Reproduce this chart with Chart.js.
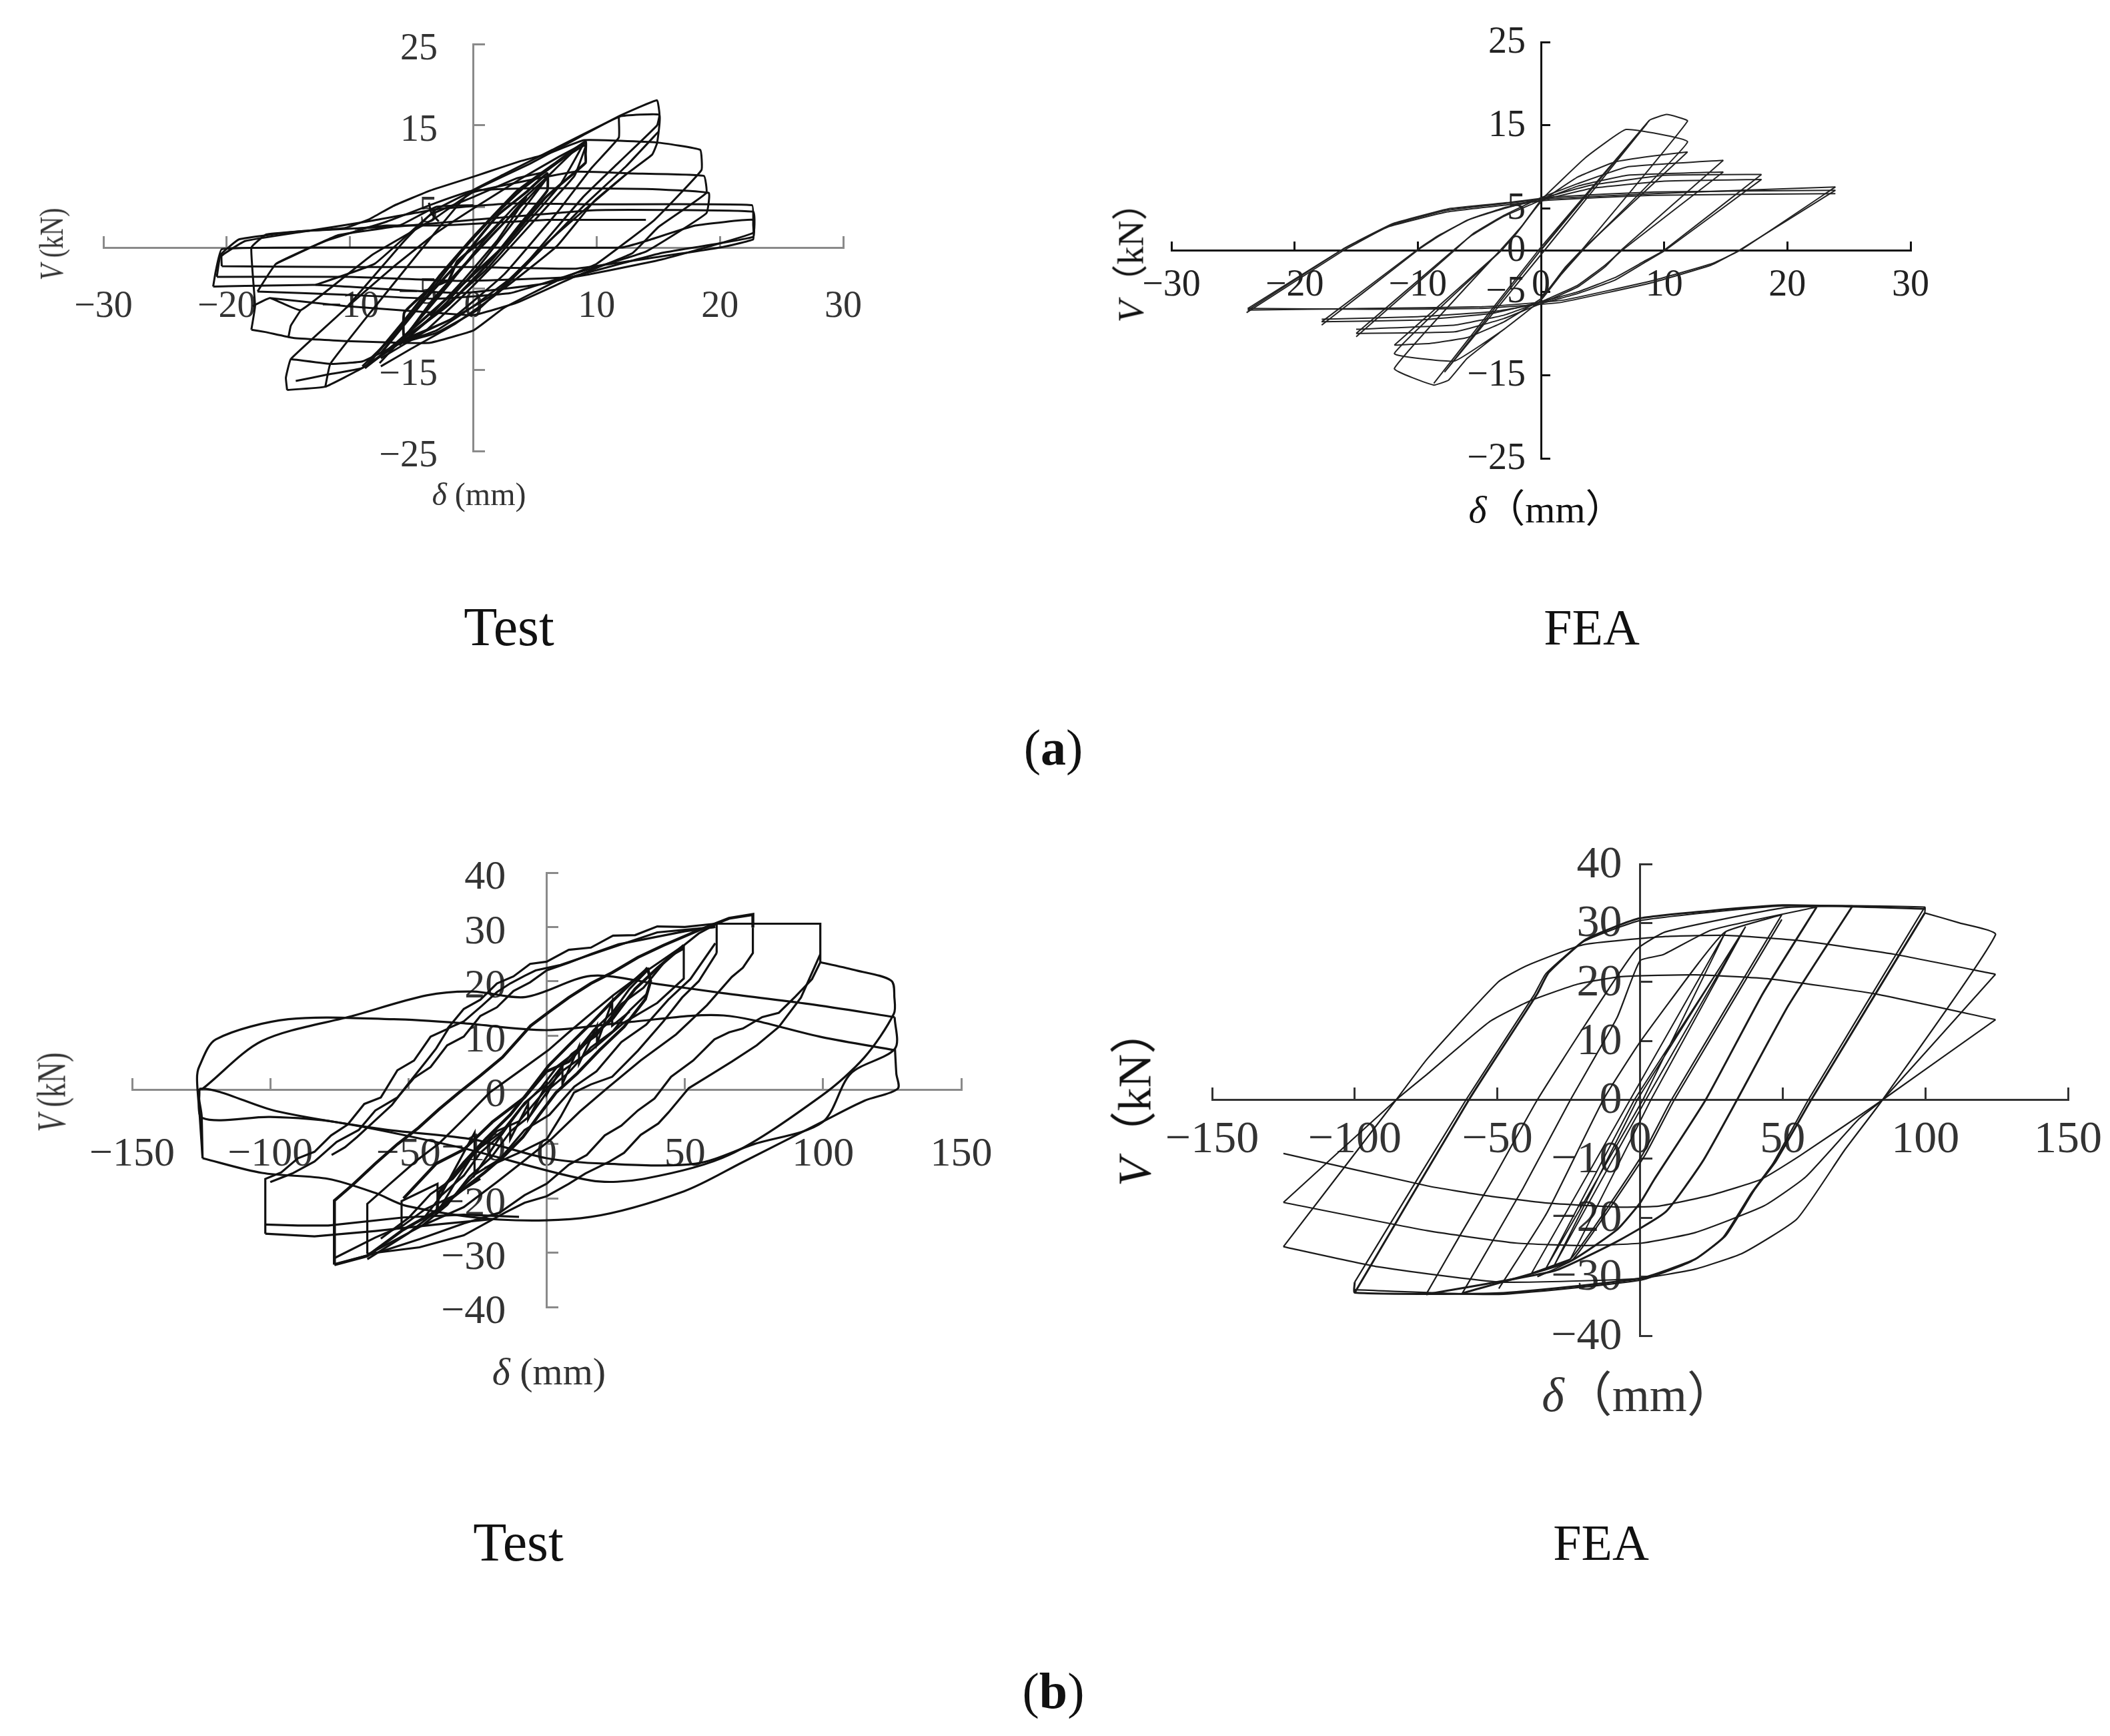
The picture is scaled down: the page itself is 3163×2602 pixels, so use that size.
<!DOCTYPE html>
<html>
<head>
<meta charset="utf-8">
<script src="https://cdn.jsdelivr.net/npm/chart.js@4"></script>
<style>
  html, body { margin: 0; background: #fff; }
  body { position: relative; width: 3163px; height: 2602px; overflow: hidden; }
  canvas { position: absolute; }
  .txt { position: absolute; transform: translate(-50%, -50%); white-space: nowrap; color: #111;
         font-family: "Liberation Serif", "Noto Sans CJK SC", serif; }
  .cap { font-size: 76px; }
  i { font-style: italic; }
</style>
</head>
<body>
<canvas id="aTest"></canvas>
<canvas id="aFea"></canvas>
<canvas id="bTest"></canvas>
<canvas id="bFea"></canvas>

<div class="txt" style="left:718px;top:740px;font-size:48px;color:#333"><i>δ</i> (mm)</div>
<div class="txt" style="left:77px;top:366px;font-size:50px;color:#333;transform:translate(-50%,-50%) rotate(-90deg) scaleX(.79)"><i>V</i> (kN)</div>
<div class="txt" style="left:2318px;top:758px;font-size:58px"><i>δ</i>（mm）</div>
<div class="txt" style="left:1690px;top:380px;font-size:54px;transform:translate(-50%,-50%) rotate(-90deg)"><i>V</i>（kN）</div>
<div class="txt" style="left:823px;top:2055px;font-size:58px;color:#333"><i>δ</i> (mm)</div>
<div class="txt" style="left:77px;top:1637px;font-size:62px;color:#333;transform:translate(-50%,-50%) rotate(-90deg) scaleX(.7)"><i>V</i> (kN)</div>
<div class="txt" style="left:2456px;top:2083px;font-size:72px;color:#333"><i>δ</i>（mm）</div>
<div class="txt" style="left:1694px;top:1644px;font-size:70px;transform:translate(-50%,-50%) rotate(-90deg)"><i>V</i>（kN）</div>

<div class="txt cap" style="left:763px;top:940px;font-size:82px">Test</div>
<div class="txt cap" style="left:2386px;top:940px">FEA</div>
<div class="txt cap" style="left:1579px;top:1120px">(<b>a</b>)</div>
<div class="txt cap" style="left:777px;top:2312px;font-size:82px">Test</div>
<div class="txt cap" style="left:2400px;top:2312px">FEA</div>
<div class="txt cap" style="left:1579px;top:2534px">(<b>b</b>)</div>

<script>
// tick values
const aXTicks = [-30, -20, -10, 0, 10, 20, 30];
const aTestYTicks = [25, 15, 5, -5, -15, -25];
const aFeaYTicks = [25, 15, 5, 0, -5, -15, -25];
const bXTicks = [-150, -100, -50, 0, 50, 100, 150];
const bYTicks = [40, 30, 20, 10, 0, -10, -20, -30, -40];

// (a) Test, hysteresis loops as [delta, V]
const aTest1 = [[-8.8,-14.8],[-5.5,-8.8],[-2.8,-3.6],[0,1.3],[3.6,7],[6.5,10.2],[9.1,13],[9.1,11.5],[9.1,10.4],[5.9,6.2],[2.5,0.2],[-1.8,-5.8],[-6.3,-11.8],[-8.8,-14.8]];
const aTest2 = [[-7.5,-13],[-4,-6.5],[-1,-1.5],[2,4],[4.3,6.8],[6,9.1],[6,7],[4.3,3.8],[1.5,-1.5],[-2,-7],[-5.6,-11],[-5.6,-8],[-3.5,-5],[-2,-4],[-1.3,-1.7],[0,0],[1,1.3],[2.6,3.8]];
const aTest3 = [[-15.1,-17.5],[-15.2,-16],[-14.8,-13.7],[-10.3,-7.4],[-5.6,0.8],[-3.1,4.6],[0,7],[4.6,10.3],[8.9,13.8],[11.9,16.2],[14.9,18.1],[15.1,16.3],[14.9,15],[11.9,10.6],[8.9,6.2],[4.6,-1.4],[0.5,-7.5],[-3,-10.5],[-6,-11.8],[-9,-14.8],[-12,-17.1],[-15.1,-17.5]];
const aTest4 = [[-12,-17.1],[-11.6,-14.3],[-8.2,-7.7],[-2.8,2.4],[-0.3,6.8],[2.5,9],[6.4,12],[11.9,16.1],[15.1,16.3],[14.9,12.8],[14.5,11.4],[12.4,9],[9.8,5.7],[6.8,0.2],[2.5,-5],[-1.8,-8.8],[-5.6,-11.5],[-9,-14],[-11.6,-14.3],[-14.8,-13.7]];
const aTest5 = [[11.8,16.1],[11.8,13.5],[9.6,9.8],[6.8,4.3],[2.5,-3.3],[-1.8,-8.8],[-6,-11.5]];
const aTest6 = [[-14.4,-16.4],[-11.8,-15.6],[-9,-14.8],[-6,-11.8]];
const aTest7 = [[-18,-10.1],[-16.8,-10.4],[-14.6,-11.1],[-10.3,-11.5],[-6,-11.7],[-3.5,-11.7],[0,-10.2],[2.5,-7.4],[6.9,-4],[10,-2],[14.7,3.4],[18.5,9.5],[18.4,12],[14.9,12.9],[9,13.2],[6,11.5],[3.8,10.6],[1,9.2],[0,8.7],[-3.5,7],[-6.5,5.1],[-8.4,3.5],[-10.4,2.4],[-14,2],[-16.8,1.6],[-18,0],[-17.7,-7.2],[-18,-10.1]];
const aTest8 = [[-14,-7.7],[-14.8,-9.6],[-15,-11.1]];
const aTest9 = [[-17.9,-7.2],[-16.5,-6.2],[-14,-7.7],[-8.2,-0.9],[-3.1,3.6],[0,6.8],[8.2,9.3],[12.9,9.1],[18.7,8.8],[18.9,6.7],[15,2.5],[12.9,-0.7],[8.2,-3.6],[3.5,-6.8],[0,-8.3],[-5,-7.8],[-10.4,-7.2],[-16.5,-6.2]];
const aTest10 = [[-17.5,-5.4],[-16,-2],[-12,0.8],[-7,3.2],[-3,5.5],[0,7],[5,7.3],[14,7.2],[19.1,6.7],[18.9,4.2],[14,-0.5],[8.2,-3.2],[3,-5.6],[-3,-6.3],[-10.4,-5.8],[-17.5,-5.4]];
const aTest11 = [[-20.4,-2.3],[-20.4,-1],[-18.5,0.8],[-14,1.9],[-8.6,3.2],[-3,4.7],[3,5.4],[10,5.3],[22.6,5.2],[22.7,2.8],[22.7,1],[20,0],[15.2,-1.1],[8.2,-2.6],[0,-2.4],[-10,-2.4],[-20.4,-2.3]];
const aTest12 = [[-20.8,-3.6],[-20.5,-0.9],[-19,1],[-14,2],[-6,2.6],[0,3.4],[10,4.6],[22.7,4.4],[22.7,1.8],[15.2,-1.5],[8.2,-3.6],[-1,-4.1],[-10,-3.6],[-20.8,-3.6]];
const aTest13 = [[-21.1,-4.8],[-20.9,-3],[-20.4,-0.2],[-12,-0],[0,0],[12,0],[14,0.8],[18,2.7],[22.7,3.4],[22.7,1.3],[15.2,-0.7],[5.9,-4.4],[-1.1,-5.6],[-12.8,-4.6],[-21.1,-4.8]];
const aTest14 = [[-9.6,2.3],[-7,2.7],[-3,2.7],[0,2.9],[6,3.4],[14,3.4]];
const aTest15 = [[-3.6,5.5],[-3.4,4.2],[-2.8,3.2]];
const aTest16 = [[-16,-2],[-11,1.5],[-6,2.7],[-3,5],[0,5.2]];
const aTest17 = [[-12.8,-4.6],[-8,-2],[-3.5,4],[0,6.2],[3.5,8.5],[5.9,9.3]];
const aTest18 = [[-9,-14.6],[-6.3,-10.6],[-3.5,-5.4],[-1,-0.6],[1.5,3.6],[4,7.2],[7,10.6],[9.1,12.6],[8.2,8.8],[5,3.4],[2,-1.6],[-1,-6.2],[-4,-10.4],[-7.5,-13.6]];
const aTest19 = [[-7.6,-14.2],[-4.8,-9.6],[-2,-4.6],[0.6,0.4],[3.2,4.8],[5.8,8.4],[9,13],[7,7.6],[4,2.4],[1,-2.8],[-2.6,-7.6],[-6,-12]];
const aTest20 = [[-6,-12],[-3.4,-6.6],[-0.8,-2.2],[1.8,2],[4.2,5.6],[6,8.6],[3.4,3.4],[0.4,-2.4],[-2.2,-6.8],[-4.8,-10.4]];
const aTest21 = [[-5.6,-11],[-2.8,-5.8],[0,-1],[2.6,3.2],[4.3,6.2],[2,1],[-0.8,-4],[-3.5,-8.4]];
const aTest22 = [[-10.3,-7.4],[-6.5,-2.4],[-3,1.8],[0,4.8],[3.8,8.4],[7,11.2],[9,12.8]];
const aTest23 = [[12.4,9],[9,4.6],[6,0.6],[3,-3.8],[0.2,-7],[-3,-10.2],[-6,-11.8]];
const aTest24 = [[15,14.2],[12.4,10],[9,5.2],[5.8,0.2],[2,-5.6],[-1.5,-9.4],[-5,-12.4],[-7.5,-14.6]];
const aTestLoops = [aTest1, aTest2, aTest3, aTest4, aTest5, aTest6, aTest7, aTest8, aTest9, aTest10, aTest11, aTest12, aTest13, aTest14, aTest15, aTest16, aTest17, aTest18, aTest19, aTest20, aTest21, aTest22, aTest23, aTest24];
const aTestThick = [aTest1, aTest2];

// (a) FEA
const aFea1 = [[-23.9,-7.5],[-16,0],[-15,0.8],[-12.2,3],[-7.6,4.8],[-2.9,5.6],[0.8,6.2],[9.2,6.8],[23.9,7.6]];
const aFea2 = [[23.9,7.6],[16.2,0],[13.9,-1.6],[9.2,-3.6],[1.8,-6],[-4.8,-6.8],[-14,-7],[-23.8,-7.2]];
const aFea3 = [[-23.8,-7.2],[-16,0.2],[-15,1],[-12,3.2],[-7.4,5],[-2.8,5.7],[1,6.4],[9.2,7],[23.9,7.2]];
const aFea4 = [[23.9,7.2],[16.1,0],[13.8,-1.8],[9,-3.9],[1.5,-6.3],[-5,-7],[-14,-7.1],[-23.8,-7]];
const aFea5 = [[-23.8,-7],[-16.1,0.1],[-12.4,2.8],[-7.6,4.6],[-3,5.4],[0.6,6],[9,6.6],[23.9,6.8]];
const aFea6 = [[-17.8,-9],[-10,0],[-8.5,1.5],[-6,3.6],[-3,5],[0,6.2],[4,7.8],[10,9],[17.9,9.1]];
const aFea7 = [[17.9,9.1],[10,0],[8.3,-1.4],[6,-3.3],[3,-5],[0,-6.2],[-4,-7.6],[-10,-8.4],[-17.8,-8.6]];
const aFea8 = [[-17.8,-8.6],[-10,0.1],[-8.4,1.7],[-5.8,3.7],[-3,5.1],[0,6],[4,7.4],[10,8.3],[17.9,8.5]];
const aFea9 = [[17.9,8.5],[10.1,0],[8.4,-1.5],[6,-3.6],[3,-5.2],[0,-6.4],[-4,-7.4],[-10,-8],[-17.8,-8.3]];
const aFea10 = [[-15,-10.4],[-7,0],[-5.5,2],[-3,4.2],[0,6.3],[3,8],[7,10],[14.8,10.8]];
const aFea11 = [[14.8,10.8],[6.5,0],[5.2,-2],[3,-4.4],[0,-6.4],[-3,-8.2],[-7,-9.8],[-15,-10]];
const aFea12 = [[-15,-10],[-7.1,0],[-5.6,1.8],[-3.1,4],[0,6],[3,7.7],[7,9],[14.8,9.4]];
const aFea13 = [[14.8,9.4],[6.6,0],[5.2,-1.8],[3,-4.2],[0,-6.2],[-3,-7.8],[-7,-9],[-15,-9.5]];
const aFea14 = [[-11.9,-11.4],[-3.2,0],[-2,2],[0,5.8],[3,8.8],[6,10.6],[9,11.3],[11.9,11.8]];
const aFea15 = [[11.9,11.8],[3.3,0],[2,-2],[0,-5.8],[-3,-8.6],[-6,-10.5],[-9,-11.2],[-11.9,-11.4]];
const aFea16 = [[0,0],[8.8,15.6],[10.2,16.3],[11.9,15.5],[3.3,0],[1.5,-3],[0,-6],[-3,-9.5],[-6,-13],[-7.5,-15.6],[-8.7,-16.2],[-11.9,-14.2],[-3.3,0],[-1.5,3],[0,6],[3.6,11.1],[6.9,14.5],[11.9,13],[3.4,0],[1.6,-3],[0,-6],[-3,-9.5],[-7,-13.3],[-11.9,-12.4],[-3.2,0],[-1.5,3]];
const aFea17 = [[-8.7,-16],[-0.2,0],[8.6,15.2],[0.3,0],[-7.8,-14.6],[0.4,0.8],[8.8,15.6]];
const aFeaLoops = [aFea1, aFea2, aFea3, aFea4, aFea5, aFea6, aFea7, aFea8, aFea9, aFea10, aFea11, aFea12, aFea13, aFea14, aFea15, aFea16, aFea17];

// (b) Test, ragged branches typed in by eye
const bTest1 = [[-124.5,-12.6],[-103,-15.3],[-79,-16.4],[-62,-19],[-50.6,-21.4],[-17,-23.9],[16,-23.4],[49.6,-18.7],[71,-13.3],[99.7,-5.9],[115,-2],[127,0.2],[126.5,3],[126,7.6]];
const bTest2 = [[99,23.5],[112,22],[124.7,20.1],[125.8,17],[125.6,14],[115,6],[99.7,-1],[66,-12],[35,-16.4],[16,-16.7],[-31.5,-10.6],[-76.8,-5.9],[-100,-5],[-124.5,-5.2],[-125.7,0.2]];
const bTest3 = [[-125.7,0.2],[-124.5,0.2],[-103,9],[-69.6,13.7],[-43.4,17.4],[-26.7,18.1],[-7.6,17.1],[16,21],[40,19.5],[63.9,17.8],[95,15.8],[125.9,13.4]];
const bTest4 = [[125.9,13.4],[126,7.6],[110,3],[99.7,-6],[75,-10],[54,-13.6],[21,-13.6],[0,-12.6],[-26,-9.2],[-60,-7.2],[-98,-3.9],[-125,0.2],[-124.8,-5],[-124.5,-12.6]];
const bTest5 = [[-124.5,-12.6],[-125.5,-5],[-126.5,2],[-125.7,4.3],[-119.7,9.3],[-93.5,13],[-55.3,13],[-31,12.3],[0,11],[30,12.5],[64,13.7],[99.7,9.7],[126,7.3]];
const bTest6 = [[-101.8,-26.5],[-101.8,-16.4],[-96,-15.2],[-90,-12.6],[-84,-11.4],[-78,-8.4],[-72,-6.4],[-66,-2.6],[-60,-1.4],[-54,3.6],[-48,5.4],[-42,9.8],[-36,11.2],[-30,14.9],[-24,16.6],[-18,19.6],[-12,20.9],[-6,23.2],[0,23.6],[8,25.8],[16,26.2],[24,28.4],[32,28.5],[40,30.1],[50,30],[61,30.6],[99,30.6],[99,28.4],[99,23.5]];
const bTest7 = [[99,23.5],[96,20.4],[90,17.2],[84,14.2],[78,13.4],[71,11.3],[66,10.6],[60.7,9.3],[53,5.4],[45,2.4],[39,-1.6],[33,-3.8],[27,-6.6],[21,-8.4],[14.5,-12],[8,-13.8],[0,-17.3],[-8,-19.4],[-16.9,-22.6],[-30,-24.6],[-46,-27.5],[-60,-29.8],[-76.8,-32.2]];
const bTest8 = [[-101.8,-24.8],[-90,-25],[-79,-25],[-51.8,-23.5],[-30,-23],[-10,-23.4]];
const bTest9 = [[-101.8,-26.5],[-84,-27],[-62,-26],[-40,-24.8],[-19,-23.8]];
const bTest10 = [[-76.8,-32.2],[-76.8,-20.4],[-70,-17.4],[-62,-13.6],[-54,-10],[-46.4,-7],[-39,-3.6],[-31.7,-0.5],[-24,2.6],[-16,6],[-10,9.4],[-5.8,11.8],[1,14.4],[8,17],[16,19.6],[23.7,21.6],[33,24.4],[42.2,26.6],[55,29.4],[66,31.6],[74.6,32.3],[74.6,29.9]];
const bTest11 = [[-64.9,-30.2],[-64.9,-21],[-56,-17],[-47,-13],[-39,-9.9],[-30,-5.4],[-20.6,-0.5],[-10,3.4],[0.6,7.3],[8,10.6],[14.5,13.4],[24,17.4],[33,20.8],[41,23.6],[49.6,26.6],[55,28.8],[61.5,30.6],[61.5,25.2]];
const bTest12 = [[-39.8,-22.8],[-39,-18.9],[-30,-13.4],[-22,-9],[-13.2,-4.6],[-6,0],[0.6,4.4],[8,8.2],[16,12.2],[23.7,16.3],[30,19.4],[35.7,22],[36.5,22.5]];
const bTest13 = [[36.5,22.5],[37.6,20],[35.7,16.7],[28,11.6],[19.1,7.3],[11,3],[3.4,-0.5],[-3,-4.8],[-8.6,-8.7],[-15,-12],[-22.4,-15.2],[-32,-19],[-40.9,-22.6],[-52,-25.8],[-64.9,-30.6],[-76.8,-32.2]];
const bTest14 = [[61.5,25.2],[55,20],[49,17],[42.2,12.6],[33,7.2],[23.7,2.4],[16,1],[9.9,-0.5],[5,-5],[0,-9.1],[-10,-11.6],[-22.4,-14.4]];
const bTest15 = [[-100,-17],[-92,-15.4],[-84,-13.2],[-76,-9.6],[-68,-7.4],[-62,-3.8],[-54,-1.4],[-48,2.2],[-42,4.2],[-36,8.2],[-30,9.8],[-24,13.6],[-18,15.2],[-12,18.2],[-6,19.8],[0,22],[8,23.4],[16,25],[26,26.8],[38,28],[50,29.2],[61,30]];
const bTest16 = [[99,25],[92,17],[84,11.6],[76,8.2],[67,5.2],[60,3],[51.4,0.3],[44,-4.2],[40.4,-6.2],[34,-8.3],[28,-11.6],[22.8,-13.2],[14,-15.4],[8,-17.3],[0,-19.6],[-8,-20.8],[-15,-22.6],[-30,-26.8],[-46,-29],[-64.9,-30.2]];
const bTest17 = [[74.6,29.9],[74.6,25.2],[71,22.5],[67,20.8],[58,15.6],[46.8,10.2],[34,5.4],[21.9,0.3],[12,-4],[1.6,-9.1],[-8,-13],[-18,-17],[-30,-21.6],[-45,-25],[-64.9,-30.4]];
const bTest18 = [[-77.8,-12],[-73,-10.6],[-68.6,-8.7],[-62,-5.6],[-56,-2.8],[-50.1,1.1],[-44,5],[-40,7.6],[-35.4,11.4],[-30,12.6],[-23.4,15.5],[-18,18],[-13.2,19.6],[-8,21],[-4,22],[5,23],[20,25.6],[40,29],[61,30]];
const bTest19 = [[-52.5,-25.9],[-52.5,-20.5],[-39.5,-17.3],[-39.5,-20.5],[-26.1,-7.9],[-26.1,-15.7],[-13.2,-5.9],[-13.2,-9.1],[-6.7,-2.6],[-6.7,-5.4],[0,1.1],[0,-0.9],[5.7,4.4],[5.7,1.1],[11.7,8],[11.7,4.8],[18.2,11.8],[18.2,8.5],[23.7,16.3],[23.7,11.8],[30,14.4]];
const bTest20 = [[49.6,26.6],[49.6,20.5],[40,16],[28,12.4],[16,7.2],[6,3.6],[0,0.2],[-10,-5.8],[-18,-7.6],[-26.7,-12],[-33,-17],[-39.8,-22.8]];
const bTest21 = [[-51.8,-20],[-40,-13.6],[-30,-11],[-19.6,-5.9],[-8,-1.4],[0,3.4],[8,5.2],[16,9.7],[24,13.2],[32,18.6],[40,22.4],[49.6,26.6]];
const bTest22 = [[-45,-24],[-38,-19.4],[-30,-15.8],[-24,-11.6],[-16,-8],[-9,-3.2],[-2,0.4],[4,4.4],[11,7.2],[17,11],[24,14.4],[30,18.6],[36.5,22]];
const bTest23 = [[36.5,17.8],[30,14.6],[24,10.8],[16,7.8],[8,3.2],[1,0.2],[-6,-4.8],[-13,-7.6],[-20,-12.4],[-28,-16],[-36,-21.2],[-45,-25]];
const bTest24 = [[-60,-27.4],[-50,-23.6],[-42,-19.2],[-34,-16.4],[-25,-11],[-16,-7.6],[-8,-2.4],[1,1.4],[9,6.6],[18,10],[27,15.8],[35,18.8],[44,24.4],[49.6,26]];
const bTest25 = [[61,27],[52,20.4],[44,16.6],[36,12],[27,8.8],[18,3.4],[10,0.6],[1,-4.6],[-8,-7.4],[-17,-12.8],[-26,-15.6],[-36,-20.8],[-50,-26.4],[-64.9,-31.2]];
const bTest26 = [[-76.8,-31],[-62,-27.2],[-52,-25],[-44,-22],[-34,-19.6],[-24,-16.4]];
const bTestLoops = [bTest1, bTest2, bTest3, bTest4, bTest5, bTest6, bTest7, bTest8, bTest9, bTest10, bTest11, bTest12, bTest13, bTest14, bTest15, bTest16, bTest17, bTest18, bTest19, bTest20, bTest21, bTest22, bTest23, bTest24, bTest25, bTest26];
const bTestSmooth = [bTest1, bTest2, bTest3, bTest4, bTest5];
const bTestThick = [bTest10, bTest12, bTest13, bTest21];

// (b) FEA
const bFea1 = [[99.8,31.7],[112,30],[124.6,28],[85,0],[71.6,-8.6],[55,-20.2],[36,-26],[19.4,-28.7],[0,-30.3],[-49,-30.9],[-92,-28.3],[-125,-24.9]];
const bFea2 = [[-125,-24.9],[-85.5,0],[-74.5,7],[-49.7,20],[-40,22.7],[-20,26.3],[9,27.7],[30,27.9],[56,27],[89,24.7],[124.6,21.3]];
const bFea3 = [[124.6,21.3],[85,0],[76.8,-3.2],[58,-13.1],[43.4,-18],[19.4,-22.5],[0.6,-24.3],[-20,-24.7],[-43.2,-24.3],[-74.5,-22.2],[-125,-17.4]];
const bFea4 = [[-125,-17.4],[-85.5,0],[-74.5,4.4],[-52.6,13.3],[-39,16.7],[-22,19.6],[-6.7,20.9],[19.4,21.2],[45.5,20.5],[82,18],[124.6,13.6]];
const bFea5 = [[124.6,13.6],[85,0],[82,-1],[56,-9.5],[42.4,-13.5],[24.6,-16.2],[6.9,-18],[-6.7,-18.2],[-32.8,-17.5],[-54.7,-16.2],[-74.5,-14.6],[-125,-9.1]];
const bFea6 = [[-100,-30.9],[-61,0],[-37,17.9],[-33,21.4],[-20,26.8],[0,30.4],[50,32.9],[99.8,32.7],[99.8,31.7]];
const bFea7 = [[99.8,31.7],[60,0],[47.6,-10.4],[40,-15.3],[30,-23],[19.4,-27],[0,-30.3],[-49.5,-32.8],[-100,-32.7],[-100,-30.9]];
const bFea8 = [[-100,-32.7],[-60,0],[-36,18],[-32,21.6],[-19,27.2],[0,30.8],[50,33],[99.8,32.4]];
const bFea9 = [[99.8,32.7],[59,0],[46.6,-10.8],[39,-15.8],[29,-23.4],[18,-27.4],[0,-30.6],[-49.5,-33],[-100,-32.2]];
const bFea10 = [[-75,-33],[-63,-22.9],[-51.6,-13.5],[-36,0],[-19,12.9],[-1.5,25.4],[9,28.5],[50.7,32.6],[74.5,32.9]];
const bFea11 = [[74.5,32.9],[52,16],[34,0],[22,-10.4],[9,-19],[-8,-24],[-30,-29],[-75,-33]];
const bFea12 = [[-62.3,-32.8],[-41,-15],[-24.4,0],[-8,14],[0,23.6],[8,24.6],[25,28.8],[61.9,32.7]];
const bFea13 = [[61.9,32.7],[43,18],[23,0],[5,-13.5],[0,-17.5],[-8,-22],[-25,-27.5],[-62.3,-32.8]];
const bFea14 = [[-49.5,-32],[-32.8,-19.3],[-12.9,0],[0,9.8],[20.5,23.2],[29.9,28.5],[49.7,31.4]];
const bFea15 = [[49.7,31.4],[11,0],[0.6,-9.5],[-24.4,-27],[-38,-29.4]];
const bFea16 = [[49.7,30.6],[12,0],[1.6,-9.5],[-23.4,-27],[-36,-30]];
const bFea17 = [[-38,-29.4],[-3.5,0],[30,28.5],[1,0],[-33,-28.6],[-2,0],[35,27.7],[2,0],[-30,-28],[-1,0],[37,29.4],[3.8,0],[-24.4,-27],[-38,-29.4]];
const bFeaLoops = [bFea1, bFea2, bFea3, bFea4, bFea5, bFea6, bFea7, bFea8, bFea9, bFea10, bFea11, bFea12, bFea13, bFea14, bFea15, bFea16];
const bFeaStraight = [bFea17];
const bFeaThick = [bFea7, bFea8, bFea11, bFea13];

function minusLabel(value) {
  return String(value).replace('-', '−');
}

function createHysteresisChart(id, loops, xTicks, yTicks, opts) {
  const canvas = document.getElementById(id);
  // wide side margins, Chart.js adds the tick padding to the room it wants for the end labels
  const pad = { left: 190, right: 190, top: 70, bottom: 130 };
  canvas.width = opts.right - opts.left + pad.left + pad.right;
  canvas.height = opts.bottom - opts.top + pad.top + pad.bottom;
  canvas.style.left = (opts.left - pad.left) + 'px';
  canvas.style.top = (opts.top - pad.top) + 'px';

  const xMax = xTicks[xTicks.length - 1];
  const yMax = yTicks[0];
  const tickFont = { family: 'Liberation Serif', size: opts.fontSize };
  const smooth = opts.smooth || [];
  const thick = opts.thick || [];

  new Chart(canvas, {
    type: 'scatter',
    data: {
      datasets: loops.map(loop => ({
        data: loop.map(p => ({ x: p[0], y: p[1] })),
        showLine: true,
        pointRadius: 0,
        borderColor: opts.lineColor,
        borderWidth: thick.includes(loop) ? opts.thickWidth : opts.lineWidth,
        tension: smooth.includes(loop) ? 0.3 : opts.tension
      })).concat((opts.straight || []).map(loop => ({
        data: loop.map(p => ({ x: p[0], y: p[1] })),
        showLine: true,
        pointRadius: 0,
        borderColor: opts.lineColor,
        borderWidth: 2,
        tension: 0
      })))
    },
    options: {
      responsive: false,
      animation: false,
      layout: { padding: pad },
      plugins: { legend: { display: false }, tooltip: { enabled: false } },
      scales: {
        x: {
          type: 'linear',
          min: -xMax,
          max: xMax,
          position: { y: 0 },
          afterBuildTicks: s => { s.ticks = xTicks.map(v => ({ value: v })); },
          border: { color: opts.axisColor, width: opts.axisWidth },
          grid: { drawOnChartArea: false, color: opts.axisColor, lineWidth: opts.axisWidth, tickLength: -opts.tickLen },
          ticks: { autoSkip: false, maxRotation: 0, font: tickFont, color: opts.textColor, padding: opts.xLabelGap, callback: minusLabel }
        },
        y: {
          type: 'linear',
          min: -yMax,
          max: yMax,
          position: { x: 0 },
          afterBuildTicks: s => { s.ticks = yTicks.filter(v => v !== 0).map(v => ({ value: v })); },
          border: { color: opts.axisColor, width: opts.axisWidth },
          grid: { drawOnChartArea: false, color: opts.axisColor, lineWidth: opts.axisWidth, tickLength: -opts.tickLen },
          ticks: { display: false }
        },
        // labels of the vertical axis sit away from its line, so they get their own scale
        yText: {
          type: 'linear',
          axis: 'y',
          min: -yMax,
          max: yMax,
          position: { x: -opts.yLabelGap },
          afterBuildTicks: s => { s.ticks = yTicks.map(v => ({ value: v })); },
          border: { display: false },
          grid: { display: false },
          ticks: { autoSkip: false, font: tickFont, color: opts.textColor, labelOffset: opts.yLabelDrop, callback: minusLabel }
        }
      }
    }
  });
}

createHysteresisChart('aTest', aTestLoops, aXTicks, aTestYTicks, {
  left: 155, right: 1264, top: 66, bottom: 676,
  lineColor: '#111', lineWidth: 3, thickWidth: 4, tension: 0.1, axisColor: '#8a8a8a', axisWidth: 3, tickLen: 19,
  fontSize: 56, textColor: '#333', xLabelGap: 75, yLabelGap: 2.9, yLabelDrop: 8, thick: aTestThick
});
createHysteresisChart('aFea', aFeaLoops, aXTicks, aFeaYTicks, {
  left: 1756, right: 2864, top: 63, bottom: 687,
  lineColor: '#222', lineWidth: 2, thickWidth: 2, tension: 0.1, axisColor: '#111', axisWidth: 3, tickLen: 15,
  fontSize: 56, textColor: '#222', xLabelGap: 35, yLabelGap: 1.25, yLabelDrop: 1
});
createHysteresisChart('bTest', bTestLoops, bXTicks, bYTicks, {
  left: 198, right: 1441, top: 1308, bottom: 1959,
  lineColor: '#111', lineWidth: 3.2, thickWidth: 4.5, tension: 0, axisColor: '#8a8a8a', axisWidth: 3, tickLen: 19,
  fontSize: 62, textColor: '#333', xLabelGap: 79, yLabelGap: 14.8, yLabelDrop: 8, smooth: bTestSmooth, thick: bTestThick
});
createHysteresisChart('bFea', bFeaLoops, bXTicks, bYTicks, {
  left: 1817, right: 3100, top: 1295, bottom: 2002,
  lineColor: '#1a1a1a', lineWidth: 2.2, thickWidth: 3, tension: 0.15, axisColor: '#333', axisWidth: 3, tickLen: 20,
  fontSize: 68, textColor: '#333', xLabelGap: 40, yLabelGap: 6.3, yLabelDrop: 2, thick: bFeaThick, straight: bFeaStraight
});
</script>
</body>
</html>
